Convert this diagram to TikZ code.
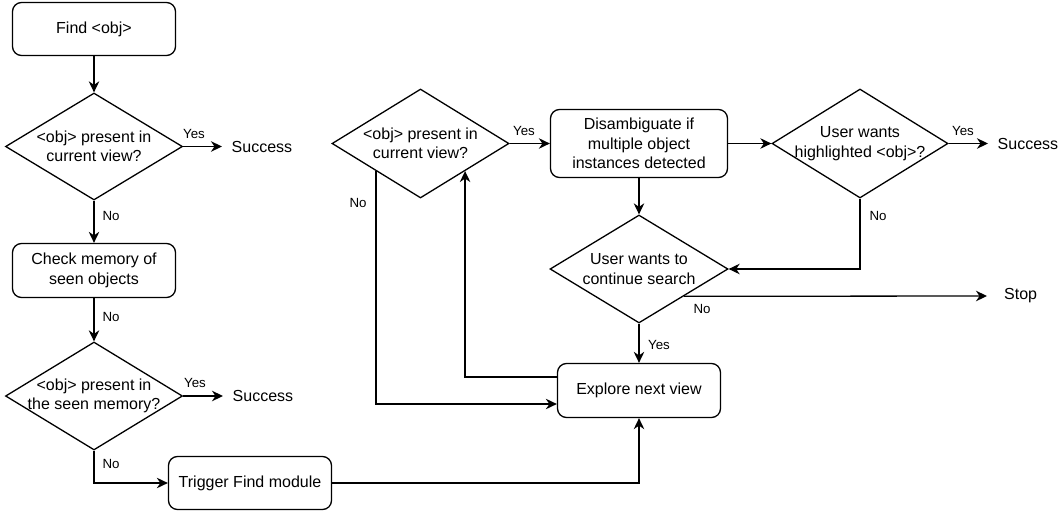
\documentclass[tikz,border=0pt]{standalone}
\usepackage{fontspec}
\setmainfont{Liberation Sans}
\usetikzlibrary{shapes.geometric,arrows.meta}
\begin{document}
\begin{tikzpicture}[x=1pt,y=-1pt,
  box/.style={draw, rounded corners=9pt, line width=1.3pt, align=center,
    font=\fontsize{16}{19.5}\selectfont, inner sep=0pt},
  dia/.style={draw, diamond, line width=1.3pt, align=center,
    font=\fontsize{16}{19.5}\selectfont, inner xsep=-40pt, inner ysep=-15pt},
  term/.style={anchor=west, font=\fontsize{16}{19.5}\selectfont, inner xsep=9.5pt, inner ysep=0pt},
  lab/.style={font=\fontsize{13.3}{15}\selectfont, inner sep=0pt},
  arr/.style={line width=1.3pt, -{Stealth[length=11pt,width=10.5pt,inset=3.5pt]}},
  ln/.style={line width=1.3pt}
]
\useasboundingbox (0,0) rectangle (1063,514);

% left column
\node[box, minimum width=163pt, minimum height=53pt] (find) at (94,29) {Find <obj>};
\node[dia, minimum width=177pt, minimum height=107pt] (d1) at (94,146.5) {<obj> present in\\current view?};
\node[term] (s1) at (222,146.5) {Success};
\node[box, minimum width=163pt, minimum height=54pt] (check) at (94,270.5) {Check memory of\\seen objects};
\node[dia, minimum width=177pt, minimum height=108pt] (d2) at (94,396) {<obj> present in\\the seen memory?};
\node[term] (s2) at (223,396) {Success};
\node[box, minimum width=163pt, minimum height=53pt] (trig) at (250,483) {Trigger Find module};

% right part
\node[dia, minimum width=177pt, minimum height=109pt] (d3) at (420.5,143.5) {<obj> present in\\current view?};
\node[box, minimum width=177pt, minimum height=68pt] (dis) at (639,143.5) {Disambiguate if\\multiple object\\instances detected};
\node[dia, minimum width=176pt, minimum height=109pt] (d5) at (860,143.5) {User wants\\highlighted <obj>?};
\node[term] (s3) at (988,143.5) {Success};
\node[dia, minimum width=178pt, minimum height=108pt] (d4) at (639,269) {User wants to\\continue search};
\node[term, inner xsep=17pt] (stop) at (987,296) {Stop};
\node[box, minimum width=163pt, minimum height=54pt] (ex) at (639,390.5) {Explore next view};

% connectors
\draw[arr] (find.south) -- (d1.north);
\draw[arr] (d1.east) -- (s1.west);
\draw[arr] (d1.south) -- (check.north);
\draw[arr] (check.south) -- (d2.north);
\draw[arr] (d2.east) -- (s2.west);
\draw[arr] (d2.south) |- (trig.west);
\draw[arr] (trig.east) -| (ex.south);
\draw[arr] ([yshift=13.5pt]ex.west) -| (d3.south east);
\draw[arr] (d3.south west) |- ([yshift=-13.5pt]ex.west);
\draw[arr] (d3.east) -- (dis.west);
\draw[arr] (dis.east) -- (d5.west);
\draw[arr] (dis.south) -- (d4.north);
\draw[arr] (d5.east) -- (s3.west);
\draw[arr] (d5.south) |- (d4.east);
\draw[arr] (d4.south east) -- (stop.west);
\draw[arr] (d4.south) -- (ex.north);

% labels
\node[lab] (l1) at (194,134) {Yes};
\node[lab] (l2) at (111,216) {No};
\node[lab] (l3) at (111,317) {No};
\node[lab] (l4) at (195,383) {Yes};
\node[lab] (l5) at (111,464) {No};
\node[lab] (l6) at (358,203) {No};
\node[lab] (l7) at (524,131) {Yes};
\node[lab] (l8) at (963,131) {Yes};
\node[lab] (l9) at (878,216) {No};
\node[lab] (l10) at (702,309) {No};
\node[lab] (l11) at (659,345) {Yes};
\end{tikzpicture}
\end{document}
